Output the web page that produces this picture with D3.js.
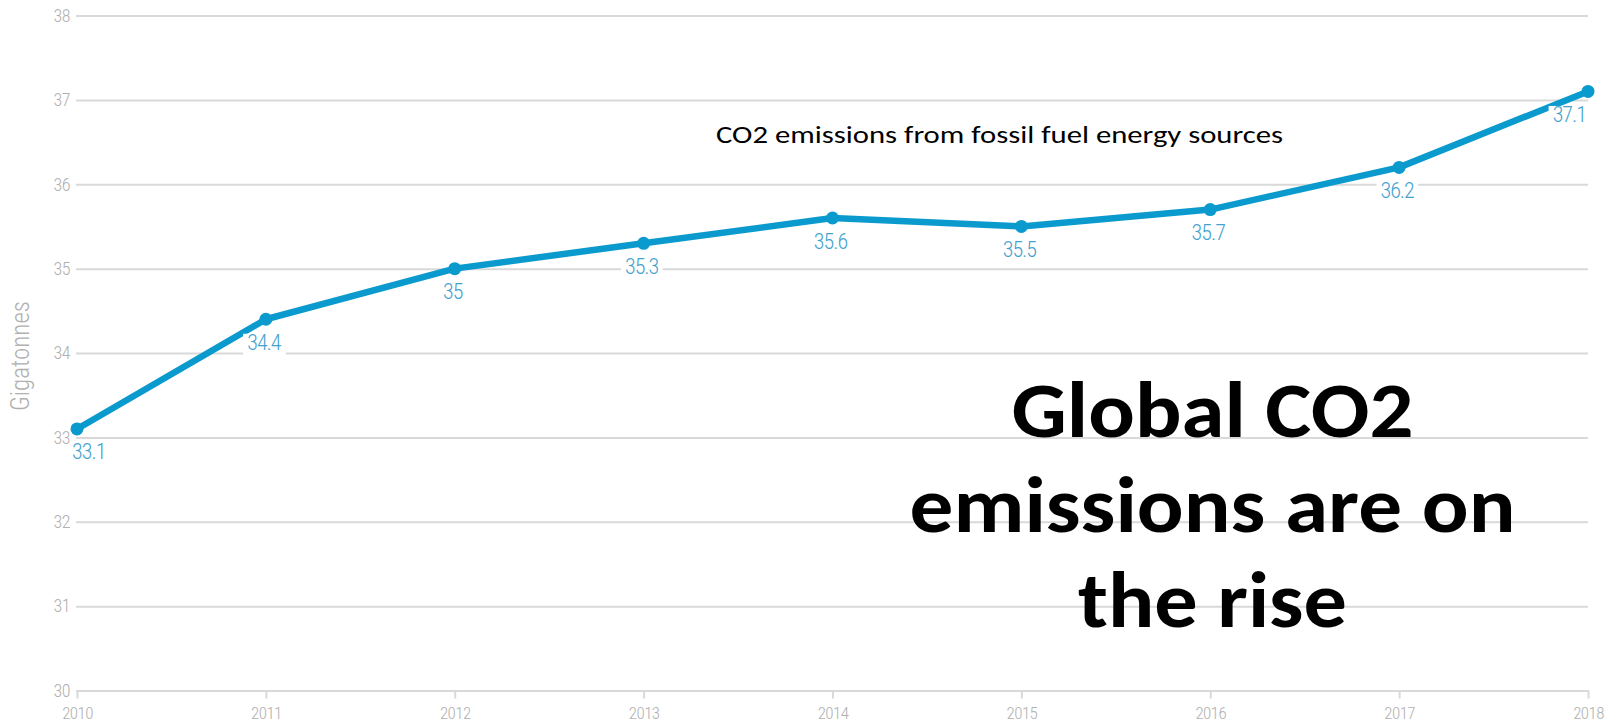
<!DOCTYPE html>
<html>
<head>
<meta charset="utf-8">
<script src="https://cdn.jsdelivr.net/npm/d3@7"></script>
<style>
  html, body { margin: 0; padding: 0; background: #fff; }
  svg { display: block; }
</style>
</head>
<body>
<svg id="chart" width="1614" height="726"></svg>
<script>
// ---- Data ----
const years = [2010, 2011, 2012, 2013, 2014, 2015, 2016, 2017, 2018];
const emissions = [33.1, 34.4, 35, 35.3, 35.6, 35.5, 35.7, 36.2, 37.1];
const yTicks = [30, 31, 32, 33, 34, 35, 36, 37, 38];
const xTicks = years;
const yAxisTitle = "Gigatonnes";
const subtitle = "CO2 emissions from fossil fuel energy sources";
const headline = ["Global CO2", "emissions are on", "the rise"];

// ---- Layout ----
const svg = d3.select("#chart");
const plotLeft = 77, plotRight = 1588, plotTop = 15.5, plotBottom = 690.5;
const x = d3.scaleLinear().domain([2010, 2018]).range([plotLeft, plotRight]);
const y = d3.scaleLinear().domain([30, 38]).range([plotBottom, plotTop]);

const narrow = "'Roboto Condensed', 'Liberation Sans Narrow', 'DejaVu Sans Condensed', 'Arial Narrow', sans-serif";
const gridColor = "#d9d9d9";
const tickTextColor = "#b0b0b0";
const lineColor = "#0a9acd";
const labelColor = "#45a2cd";

// Y axis with gridlines
const yAxis = d3.axisLeft(y).tickValues(yTicks).tickSize(-(plotRight - plotLeft + 1)).tickPadding(6).tickFormat(d3.format("d"));
const gy = svg.append("g").attr("transform", `translate(${plotLeft - 1},0)`).call(yAxis);
gy.select(".domain").remove();
gy.selectAll(".tick line").attr("stroke", gridColor).attr("stroke-width", 2);
gy.selectAll(".tick text")
  .attr("fill", tickTextColor)
  .style("font-family", narrow)
  .style("font-weight", "300")
  .style("font-size", "18px")
  .style("letter-spacing", "-0.5px");

// X axis
const xAxis = d3.axisBottom(x).tickValues(xTicks).tickSize(8).tickSizeOuter(0).tickPadding(8).tickFormat(d3.format("d"));
const gx = svg.append("g").attr("transform", `translate(0,${plotBottom})`).call(xAxis);
gx.select(".domain").attr("stroke", gridColor).attr("stroke-width", 2);
gx.selectAll(".tick line").attr("stroke", gridColor).attr("stroke-width", 2);
gx.selectAll(".tick text")
  .attr("fill", tickTextColor)
  .style("font-family", narrow)
  .style("font-weight", "300")
  .style("font-size", "17px")
  .style("letter-spacing", "-0.6px");

// Y axis title
svg.append("text")
  .attr("transform", `translate(29,356) rotate(-90)`)
  .attr("text-anchor", "middle")
  .attr("fill", tickTextColor)
  .style("font-family", narrow)
  .style("font-weight", "300")
  .style("font-size", "25px")
  .text(yAxisTitle);

// Line
const data = years.map((yr, i) => ({ year: yr, value: emissions[i] }));
const line = d3.line().x(d => x(d.year)).y(d => y(d.value));
svg.append("path")
  .datum(data)
  .attr("fill", "none")
  .attr("stroke", lineColor)
  .attr("stroke-width", 6.5)
  .attr("stroke-linejoin", "round")
  .attr("d", line);

svg.append("g").selectAll("circle")
  .data(data)
  .join("circle")
  .attr("cx", d => x(d.year))
  .attr("cy", d => y(d.value))
  .attr("r", 6.5)
  .attr("fill", lineColor);

// Value labels with white background
const lg = svg.append("g");
data.forEach((d, i) => {
  const n = data.length;
  let anchor = "middle", dx = -2;
  if (i === 0) { anchor = "start"; dx = -5; }
  if (i === n - 1) { anchor = "end"; dx = -2; }
  const g = lg.append("g");
  const t = g.append("text")
    .attr("x", x(d.year) + dx)
    .attr("y", y(d.value) + 30.5)
    .attr("text-anchor", anchor)
    .attr("fill", labelColor)
    .style("font-family", narrow)
    .style("font-weight", "300")
    .style("font-size", "22px")
    .style("letter-spacing", "-1px")
    .text(String(d.value));
  const bb = t.node().getBBox();
  g.insert("rect", "text")
    .attr("x", bb.x - 4)
    .attr("y", bb.y + 4)
    .attr("width", bb.width + 8)
    .attr("height", bb.height - 3)
    .attr("fill", "#fff");
});

// Subtitle
svg.append("text")
  .attr("x", 716)
  .attr("y", 143)
  .attr("textLength", 567)
  .attr("lengthAdjust", "spacingAndGlyphs")
  .attr("fill", "#000")
  .style("font-family", "Carlito, 'Open Sans', Lato, sans-serif")
  .style("font-size", "25px")
  .text(subtitle);

// Headline
const headWidths = [402, 606, 269];
const headBase = [437, 532, 627];
headline.forEach((s, i) => {
  svg.append("text")
    .attr("x", 1212.5 - headWidths[i] / 2)
    .attr("y", headBase[i])
    .attr("textLength", headWidths[i])
    .attr("lengthAdjust", "spacingAndGlyphs")
    .attr("fill", "#000")
    .style("font-family", "Carlito, 'Open Sans', Lato, sans-serif")
    .style("font-weight", "700")
    .style("font-size", "78px")
    .text(s);
});
</script>
</body>
</html>
